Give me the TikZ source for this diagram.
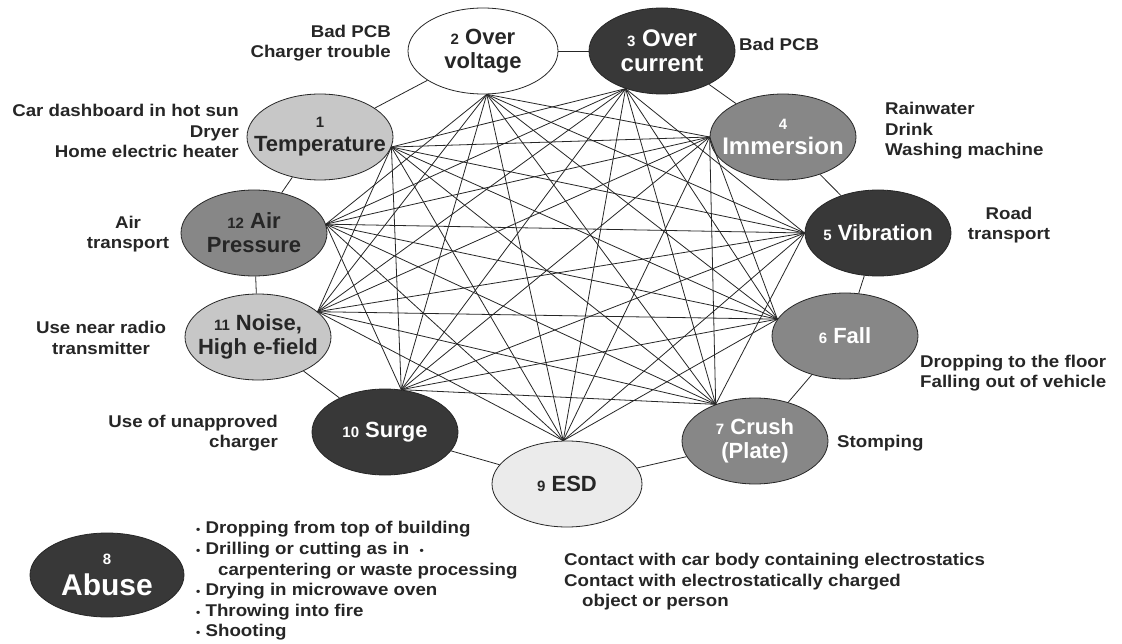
\documentclass[tikz,border=0pt]{standalone}
\usepackage{fontspec}
\setmainfont{Liberation Sans}
\newfontfamily\notefont[FakeStretch=1.1]{Liberation Sans}
\usetikzlibrary{shapes.geometric}

\newcommand{\hzno}[1]{{\fontsize{15}{17}\selectfont #1}}
\newcommand{\dotb}{{\fontsize{11}{11}\selectfont\textbullet}}

\tikzset{
  hazard/.style={ellipse, draw=black!85, line width=0.8pt,
    inner xsep=-30pt, inner ysep=-4pt,
    minimum width=146pt, minimum height=86pt, align=center,
    font=\bfseries\fontsize{22}{24}\selectfont},
  white haz/.style={hazard, fill=white, text=black!85},
  light haz/.style={hazard, fill=black!22, text=black!85},
  mid haz/.style={hazard, fill=black!47, text=white},
  midblack haz/.style={hazard, fill=black!47, text=black!85},
  dark haz/.style={hazard, fill=black!78, text=white},
  note/.style={inner sep=0pt, text=black!85, font=\notefont\bfseries\fontsize{17}{20.6}\selectfont},
  link/.style={line width=0.8pt, draw=black!85},
}

\begin{document}
\begin{tikzpicture}[x=1pt, y=-1pt]
\useasboundingbox[fill=white] (0,0) rectangle (1122,644);

% hazards round the ring
\node[white haz, minimum width=150pt] (n2) at (483,51) {\hzno{2} Over\\voltage};
\node[dark haz, font=\bfseries\fontsize{24}{25}\selectfont] (n3) at (662,51) {\hzno{3} Over\\current};
\node[light haz] (n1) at (320,137) {\hzno{1}\\Temperature};
\node[mid haz, font=\bfseries\fontsize{24}{25}\selectfont] (n4) at (783,137) {\hzno{4}\\Immersion};
\node[midblack haz] (n12) at (254,233) {\hzno{12} Air\\Pressure};
\node[dark haz] (n5) at (878,233) {\hzno{5} Vibration};
\node[light haz] (n11) at (258,337) {\hzno{11} Noise,\\High e-field};
\node[mid haz] (n6) at (845,336) {\hzno{6} Fall};
\node[dark haz] (n10) at (385,432) {\hzno{10} Surge};
\node[mid haz] (n7) at (755,441) {\hzno{7} Crush\\(Plate)};
\node[hazard, fill=black!8, text=black!85, minimum width=150pt] (n9) at (567,484) {\hzno{9} ESD};

% abuse stands apart
\node[dark haz, minimum width=154pt, minimum height=84pt] (n8) at (107,575)
  {\hzno{8}\\[7pt]{\fontsize{30}{30}\selectfont Abuse}};

% ring links
\foreach \a/\b in {n1/n2, n2/n3, n3/n4, n4/n5, n5/n6, n6/n7, n7/n9, n9/n10, n10/n11, n11/n12, n12/n1}
  \draw[link] (\a) -- (\b);

% hubs, in ring order
\coordinate (h0) at (n1.352);
\coordinate (h1) at (n2.275);
\coordinate (h2) at (n3.226);
\coordinate (h3) at (n4.180);
\coordinate (h4) at (n5.180);
\coordinate (h5) at (n6.166);
\coordinate (h6) at (n7.137);
\coordinate (h7) at (n9.95);
\coordinate (h8) at (n10.69);
\coordinate (h9) at (n11.23);
\coordinate (h10) at (n12.7);

% mesh between hubs that are not neighbours
\foreach \i in {0,...,10}
  \foreach \j in {0,...,10} {
    \pgfmathtruncatemacro\d{mod(\j-\i+11,11)}
    \ifnum\d>1 \ifnum\d<6 \draw[link] (h\i) -- (h\j); \fi\fi
  }

% causes
\node[note, anchor=east, align=right] (c2) at (391,43) {Bad PCB\\Charger trouble};
\node[note, anchor=west] (c3) at (739,44) {Bad PCB};
\node[note, anchor=east, align=right] (c1) at (239,131) {Car dashboard in hot sun\\Dryer\\Home electric heater};
\node[note, anchor=west, align=left] (c4) at (885,131) {Rainwater\\Drink\\Washing machine};
\node[note, align=center] (c12) at (128,234) {Air\\transport};
\node[note, align=center] (c5) at (1009,225) {Road\\transport};
\node[note, align=center] (c11) at (101,338) {Use near radio\\transmitter};
\node[note, anchor=west, align=left] (c6) at (920,373) {Dropping to the floor\\Falling out of vehicle};
\node[note, anchor=east, align=right] (c10) at (278,433) {Use of unapproved\\charger};
\node[note, anchor=west] (c7) at (837,443) {Stomping};
\node[note, anchor=west, align=left] (c9) at (564,582)
  {Contact with car body containing electrostatics\\
   Contact with electrostatically charged\\
   \hspace*{18pt}object or person};
\node[note, anchor=west, align=left] (c8) at (196,581)
  {\dotb\ Dropping from top of building\\
   \dotb\ Drilling or cutting as in \ \dotb\\
   \hspace*{22pt}carpentering or waste processing\\
   \dotb\ Drying in microwave oven\\
   \dotb\ Throwing into fire\\
   \dotb\ Shooting};

\end{tikzpicture}
\end{document}
